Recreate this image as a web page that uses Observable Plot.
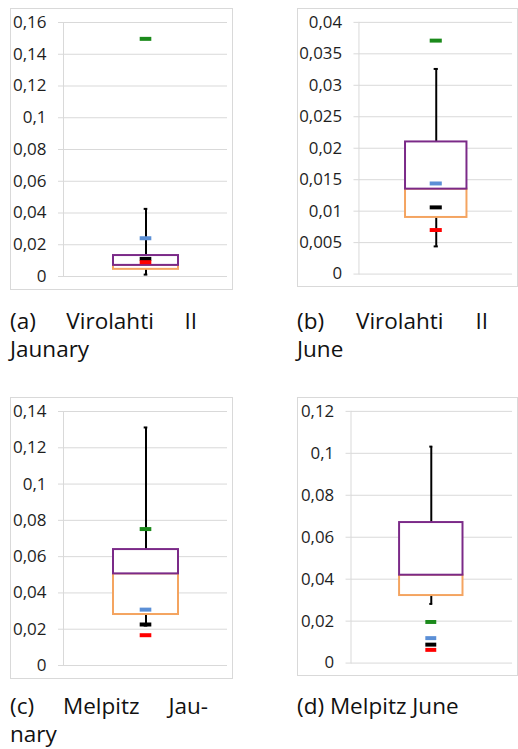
<!DOCTYPE html>
<html>
<head>
<meta charset="utf-8">
<script src="https://cdn.jsdelivr.net/npm/d3@7"></script>
<script src="https://cdn.jsdelivr.net/npm/@observablehq/plot@0.6"></script>
<style>
  html, body { margin: 0; padding: 0; background: #fff; }
  #page { position: relative; width: 518px; height: 749px; overflow: hidden; font-family: "Open Sans", sans-serif; }
  .panel { position: absolute; }
  .panel svg { display: block; overflow: visible; }
  .cap { position: absolute; font-size: 22.5px; line-height: 28px; color: #111; white-space: nowrap; }
  .cap .j { text-align: justify; text-align-last: justify; }
</style>
</head>
<body>
<div id="page"></div>
<script>
// Panels: (a) Virolahti II January, (b) Virolahti II June, (c) Melpitz January, (d) Melpitz June
const captionLine1 = ["(a) Virolahti II", "(b) Virolahti II", "(c) Melpitz Jau-", "(d) Melpitz June"];
const captionLine2 = ["Jaunary", "June", "nary", ""];

// y-axis tick values for each panel
const ticksA = [0, 0.02, 0.04, 0.06, 0.08, 0.1, 0.12, 0.14, 0.16];
const ticksB = [0, 0.005, 0.01, 0.015, 0.02, 0.025, 0.03, 0.035, 0.04];
const ticksC = [0, 0.02, 0.04, 0.06, 0.08, 0.1, 0.12, 0.14];
const ticksD = [0, 0.02, 0.04, 0.06, 0.08, 0.1, 0.12];

// box-plot statistics per panel (a, b, c, d)
const whiskerLow  = [0.0012, 0.0044, 0.0220, 0.0282];
const quartile1   = [0.0045, 0.0090, 0.0281, 0.0322];
const median      = [0.0070, 0.0135, 0.0505, 0.0419];
const quartile3   = [0.0132, 0.0210, 0.0639, 0.0670];
const whiskerHigh = [0.0426, 0.0326, 0.1312, 0.1032];

// comparison estimates shown as short dashes
const greenValues = [0.1497, 0.0371, 0.0752, 0.0196];
const blueValues  = [0.0241, 0.0144, 0.0308, 0.0119];
const blackValues = [0.0111, 0.0106, 0.0226, 0.0088];
const redValues   = [0.0090, 0.0070, 0.0167, 0.0063];

const tickSets = [ticksA, ticksB, ticksC, ticksD];
const markerSeries = [
  {values: greenValues, color: "#1b8a1b"},
  {values: blueValues,  color: "#5b8fd6"},
  {values: blackValues, color: "#000000"},
  {values: redValues,   color: "#ff0000"}
];

// layout
const layout = [
  {left: 10,  top: 8,   marginLeft: 53, capTop: 307, capWidth: 187},
  {left: 297, top: 8,   marginLeft: 62, capTop: 307, capWidth: 191},
  {left: 10,  top: 397, marginLeft: 53, capTop: 692, capWidth: 198},
  {left: 297, top: 397, marginLeft: 54, capTop: 692, capWidth: 0}
];
const W = 223, H = 282, MR = 6, MT = 14, MB = 14, PAD = 0.43, DASH = 12;
const gridColor = "#d9d9d9";
const fmt = d => String(+d.toFixed(4)).replace(".", ",");

const page = document.getElementById("page");

layout.forEach((L, i) => {
  const ticks = tickSets[i];
  const box = [{k: "box", lo: whiskerLow[i], q1: quartile1[i], med: median[i], q3: quartile3[i], hi: whiskerHigh[i]}];
  const dashes = markerSeries.map(s => ({k: "box", v: s.values[i], color: s.color}));
  const frameW = W - L.marginLeft - MR;
  const bw = frameW * (1 - PAD) / (1 + PAD);
  const dashInset = (bw - DASH) / 2;
  const capInset = (bw - 4) / 2;

  const chart = Plot.plot({
    width: W, height: H,
    marginLeft: L.marginLeft, marginRight: MR, marginTop: MT, marginBottom: MB,
    style: {fontFamily: "'Open Sans', sans-serif", fontSize: "17px", background: "#fff"},
    x: {type: "band", domain: ["box"], padding: PAD, axis: null},
    y: {domain: [0, ticks[ticks.length - 1]], axis: null},
    marks: [
      Plot.gridY(ticks, {stroke: gridColor, strokeOpacity: 1, strokeWidth: 1}),
      Plot.frame({anchor: "left", stroke: gridColor}),
      Plot.axisY(ticks, {tickSize: 5, tickPadding: 12, stroke: gridColor, fill: "#1e1e1e", tickFormat: fmt, fontSize: 17}),
      Plot.ruleX(box, {x: "k", y1: "lo", y2: "hi", stroke: "#000", strokeWidth: 2}),
      Plot.tickY(box, {x: "k", y: "lo", stroke: "#000", strokeWidth: 2, insetLeft: capInset, insetRight: capInset}),
      Plot.tickY(box, {x: "k", y: "hi", stroke: "#000", strokeWidth: 2, insetLeft: capInset, insetRight: capInset}),
      // lower half (first quartile to median) under the upper half so the median line stays purple
      Plot.barY(box, {x: "k", y1: "q1", y2: "med", fill: "#fff", stroke: "#f4a460", strokeWidth: 2}),
      Plot.barY(box, {x: "k", y1: "med", y2: "q3", fill: "#fff", stroke: "#7b2a88", strokeWidth: 2}),
      Plot.tickY(dashes, {x: "k", y: "v", stroke: "color", strokeWidth: 4, insetLeft: dashInset, insetRight: dashInset})
    ]
  });
  chart.style.outline = "1px solid " + gridColor;
  chart.style.outlineOffset = "-1px";

  const wrap = document.createElement("div");
  wrap.className = "panel";
  wrap.style.left = L.left + "px";
  wrap.style.top = L.top + "px";
  wrap.appendChild(chart);
  page.appendChild(wrap);

  const cap = document.createElement("div");
  cap.className = "cap";
  cap.style.left = L.left + "px";
  cap.style.top = L.capTop + "px";
  const l1 = document.createElement("div");
  l1.textContent = captionLine1[i];
  if (L.capWidth) { l1.className = "j"; l1.style.width = L.capWidth + "px"; }
  cap.appendChild(l1);
  if (captionLine2[i]) {
    const l2 = document.createElement("div");
    l2.textContent = captionLine2[i];
    cap.appendChild(l2);
  }
  page.appendChild(cap);
});
</script>
</body>
</html>
